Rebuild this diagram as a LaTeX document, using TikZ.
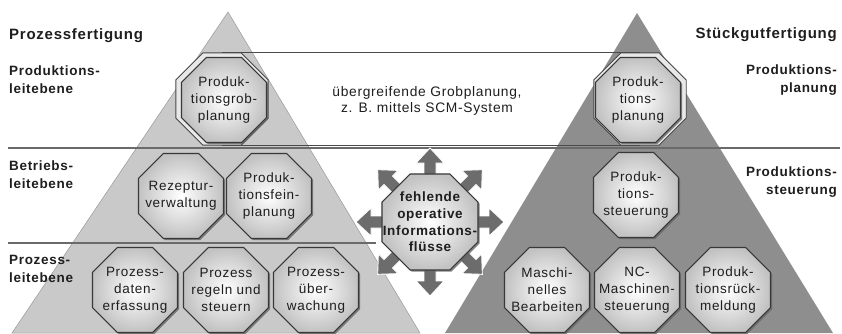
\documentclass[tikz,border=0pt]{standalone}
\usepackage{fontspec}
\setmainfont{Liberation Sans}[LetterSpace=5]
\usetikzlibrary{shapes.geometric,shadows}

\definecolor{lightpyr}{HTML}{C9C9C9}
\definecolor{darkpyr}{HTML}{8E8E8E}
\definecolor{arrowgray}{HTML}{6C6C6C}
\definecolor{inkgray}{HTML}{1E1E1E}
\definecolor{rulegray}{HTML}{6A6A6A}
\definecolor{bandgray}{HTML}{4A4A4A}

\tikzset{
  octbox/.style={regular polygon, regular polygon sides=8, minimum size=92pt,
    inner sep=0pt, draw=black!78, line width=1.1pt,
    shading=radial, inner color=white, outer color=black!24,
    drop shadow={shadow xshift=1.6pt, shadow yshift=-1.6pt, fill=black!60, opacity=0.8}},
  octring/.style={regular polygon, regular polygon sides=8, minimum size=100pt,
    inner sep=0pt, draw=black!72, line width=0.9pt, fill=black!9},
  bigoct/.style={octbox, minimum size=104pt},
  octtext/.style={align=center, inner sep=0pt, text=inkgray,
    font=\fontsize{13.5}{17}\selectfont},
  octbold/.style={align=center, inner sep=0pt, text=inkgray,
    font=\bfseries\fontsize{13.5}{16.7}\selectfont},
  levellabel/.style={inner sep=0pt, text=inkgray,
    font=\bfseries\fontsize{13.5}{18}\selectfont},
  titlelabel/.style={inner sep=0pt, text=inkgray,
    font=\bfseries\fontsize{15}{18}\selectfont},
  bandtext/.style={align=center, inner sep=0pt, text=inkgray,
    font=\fontsize{13.8}{16}\selectfont},
  levelrule/.style={draw=rulegray, line width=1.6pt},
  bandrule/.style={draw=bandgray, line width=1pt},
  flowarrow/.style={fill=arrowgray, draw=white, line width=0.9pt, line join=miter},
}

\begin{document}
\begin{tikzpicture}[x=1pt, y=-1pt]
  \useasboundingbox (0,0) rectangle (842,333);

  % the two pyramids
  \coordinate (lapex) at (228,12);
  \coordinate (lleft) at (12,333);
  \coordinate (lright) at (420,333);
  \coordinate (rapex) at (637,13);
  \coordinate (rleft) at (445,333);
  \coordinate (rright) at (833,333);
  \fill[lightpyr, draw=black!40, line width=0.5pt] (lapex) -- (lright) -- (lleft) -- cycle;
  \fill[darkpyr] (rapex) -- (rright) -- (rleft) -- cycle;

  % level separators
  \coordinate (sepA1) at (8,148);
  \coordinate (sepA2) at (840,148);
  \coordinate (sepB1) at (8,243);
  \coordinate (sepB2) at (376,243);
  \draw[levelrule] (sepA1) -- (sepA2);
  \draw[levelrule] (sepB1) -- (sepB2);

  % outer rings of the planning octagons and the band joining them
  \node[octring] (lo) at (222,99) {};
  \node[octring] (ro) at (640,99) {};
  \draw[bandrule] (lo.north) -- (ro.north);
  \draw[bandrule] (lo.south) -- (ro.south);

  % centre octagon with its eight arrows
  \coordinate (flc) at (430,222);
  \foreach \a in {0,45,...,315}{
    \begin{scope}[shift={(flc)}, rotate=\a]
      \filldraw[flowarrow] (38,-6) -- (59,-6) -- (59,-14) -- (74,0)
        -- (59,14) -- (59,6) -- (38,6) -- cycle;
    \end{scope}
  }
  \node[bigoct] (fl) at (flc) {};
  \node[octbold] (flt) at (fl) {fehlende\\operative\\Informations-\\flüsse};

  % process manufacturing
  \node[octbox] (pg) at (224,100) {};
  \node[octbox] (rz) at (181,196) {};
  \node[octbox] (pf) at (269,196) {};
  \node[octbox] (pd) at (135,290) {};
  \node[octbox] (pr) at (226,290) {};
  \node[octbox] (pu) at (316,290) {};
  \node[octtext] (pgt) at (pg) {Produk-\\tionsgrob-\\planung};
  \node[octtext] (rzt) at (rz) {Rezeptur-\\verwaltung};
  \node[octtext] (pft) at (pf) {Produk-\\tionsfein-\\planung};
  \node[octtext] (pdt) at (pd) {Prozess-\\daten-\\erfassung};
  \node[octtext] (prt) at (pr) {Prozess\\regeln und\\steuern};
  \node[octtext] (put) at (pu) {Prozess-\\über-\\wachung};

  % discrete manufacturing
  \node[octbox] (pp) at (638,100) {};
  \node[octbox] (ps) at (636,195) {};
  \node[octbox] (mb) at (547,290) {};
  \node[octbox] (nc) at (637,290) {};
  \node[octbox] (pm) at (728,290) {};
  \node[octtext] (ppt) at (pp) {Produk-\\tions-\\planung};
  \node[octtext] (pst) at (ps) {Produk-\\tions-\\steuerung};
  \node[octtext] (mbt) at (mb) {Maschi-\\nelles\\Bearbeiten};
  \node[octtext] (nct) at (nc) {NC-\\Maschinen-\\steuerung};
  \node[octtext] (pmt) at (pm) {Produk-\\tionsrück-\\meldung};

  % band text
  \node[bandtext] (band) at (427,101) {übergreifende Grobplanung,\\z. B. mittels SCM-System};

  % headings and level names
  \node[titlelabel, anchor=base west] (tl) at (9,39) {Prozessfertigung};
  \node[titlelabel, anchor=base east] (tr) at (837,38) {Stückgutfertigung};
  \node[levellabel, align=left, anchor=west] (l1) at (9,80) {Produktions-\\leitebene};
  \node[levellabel, align=left, anchor=west] (l2) at (9,175) {Betriebs-\\leitebene};
  \node[levellabel, align=left, anchor=west] (l3) at (9,269) {Prozess-\\leitebene};
  \node[levellabel, align=right, anchor=east] (r1) at (837,80) {Produktions-\\planung};
  \node[levellabel, align=right, anchor=east] (r2) at (837,182) {Produktions-\\steuerung};
\end{tikzpicture}
\end{document}
